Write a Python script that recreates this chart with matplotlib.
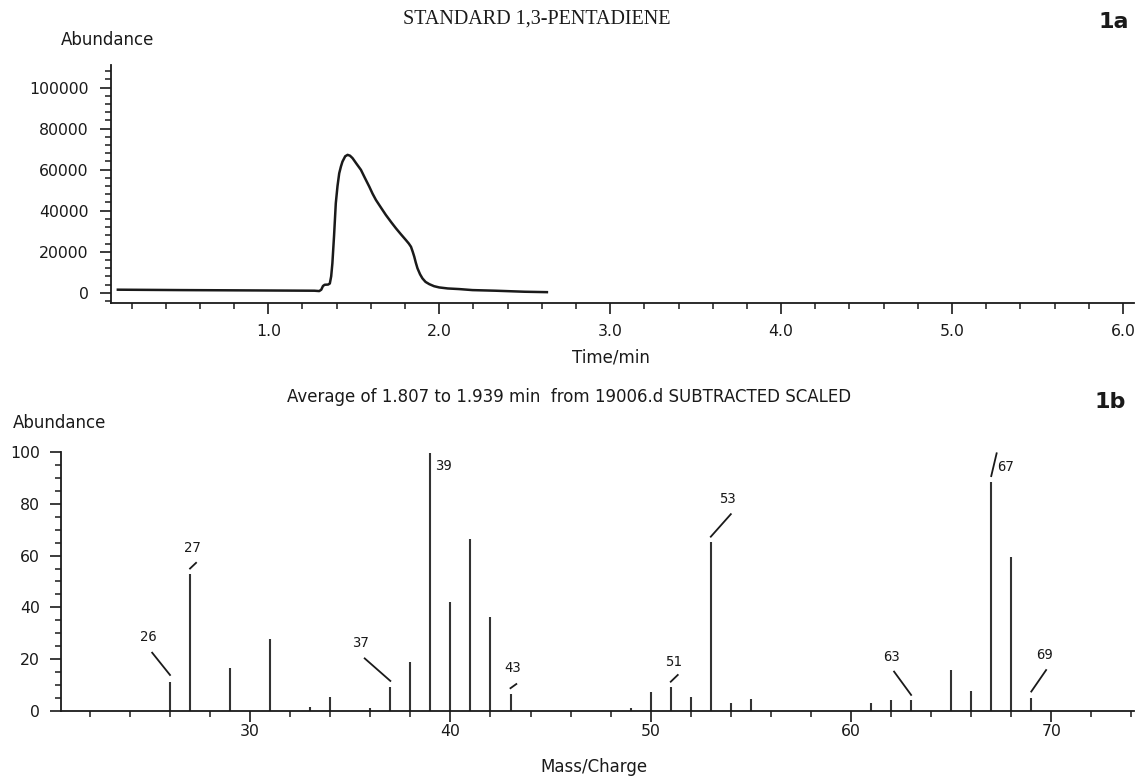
import numpy as np
import matplotlib
matplotlib.use('Agg')
import matplotlib.pyplot as plt
from matplotlib.ticker import MultipleLocator

# chromatogram (1a)
time_min = [0.12, 0.5, 0.9, 1.27, 1.298, 1.31, 1.32, 1.33, 1.35, 1.36, 1.368, 1.375, 1.385,
            1.395, 1.405, 1.415, 1.425, 1.434, 1.45, 1.464, 1.478, 1.493, 1.515, 1.542,
            1.565, 1.591, 1.610, 1.630, 1.66, 1.688, 1.72, 1.747, 1.775, 1.805, 1.822,
            1.835, 1.845, 1.854, 1.863, 1.873, 1.888, 1.902, 1.92, 1.942, 1.97, 2.0, 2.05,
            2.117, 2.195, 2.33, 2.5, 2.63]
abundance = [1500, 1300, 1150, 1000, 830, 1500, 3300, 3900, 4000, 4500, 8000, 14300, 28000,
             43600, 52000, 58200, 61500, 63900, 66500, 67200, 66800, 65600, 63000, 59900,
             56000, 51700, 48300, 45200, 41400, 37900, 34300, 31400, 28600, 25700, 24000,
             22400, 20000, 17600, 14700, 11900, 9000, 7000, 5300, 4200, 3200, 2600, 2100,
             1800, 1300, 1000, 500, 300]

# mass spectrum (1b)
mz = [26, 27, 29, 31, 33, 34, 36, 37, 38, 39, 40, 41, 42, 43,
      49, 50, 51, 52, 53, 54, 55, 61, 62, 63, 65, 66, 67, 68, 69]
rel_abund = [11.3, 52.9, 16.7, 27.9, 1.5, 5.5, 1.0, 9.1, 18.9, 99.5, 42.0, 66.3, 36.4, 6.6,
             1.0, 7.5, 9.4, 5.5, 65.4, 3.0, 4.5, 3.0, 4.2, 4.2, 15.8, 7.8, 88.5, 59.6, 5.1]
labelled_mz = [26, 27, 37, 39, 43, 51, 53, 63, 67, 69]

# label layout: (text dx, text y, leader x0, leader y0, leader x1, leader y1) relative to peak
label_layout = {
    26: (-1.08, 28.7, -0.89, 22.5, 0.0, 13.9),
    27: (0.14, 62.8, 0.0, 55.0, 0.3, 57.2),
    37: (-1.47, 26.4, -1.28, 20.3, 0.0, 11.6),
    39: (0.66, 94.6, None, None, None, None),
    43: (0.10, 16.5, 0.0, 8.8, 0.29, 10.4),
    51: (0.11, 19.0, 0.0, 11.3, 0.35, 13.9),
    53: (0.85, 81.7, 0.0, 67.3, 1.0, 76.0),
    63: (-0.98, 21.0, -0.85, 15.2, 0.0, 6.2),
    67: (0.70, 94.3, 0.0, 90.7, 0.27, 99.5),
    69: (0.64, 21.6, 0.0, 7.5, 0.74, 15.8),
}

plt.rcParams['font.family'] = ['DejaVu Sans']
ink = '#1a1a1a'

fig = plt.figure(figsize=(11.41, 7.80), dpi=100)

# ---- top panel ----
ax1 = fig.add_axes([0.0973, 0.6115, 0.8966, 0.3052])
ax1.plot(time_min, abundance, color=ink, lw=1.8)
ax1.set_xlim(0.08, 6.065)
ax1.set_ylim(-5000, 111000)
ax1.xaxis.set_minor_locator(MultipleLocator(0.2))
ax1.yaxis.set_minor_locator(MultipleLocator(4000))
ax1.set_xticks([1, 2, 3, 4, 5, 6])
ax1.set_xticklabels(['1.0', '2.0', '3.0', '4.0', '5.0', '6.0'])
ax1.set_yticks([0, 20000, 40000, 60000, 80000, 100000])
ax1.tick_params(axis='both', which='major', direction='out', length=8, width=1.2,
                labelsize=11.3, colors=ink)
ax1.tick_params(axis='both', which='minor', direction='out', length=4.5, width=1.1,
                colors=ink)
ax1.tick_params(axis='x', which='major', pad=7)
ax1.tick_params(axis='y', which='major', pad=8)
for side in ['right', 'top']:
    ax1.spines[side].set_visible(False)
for side in ['left', 'bottom']:
    ax1.spines[side].set_linewidth(1.3)
    ax1.spines[side].set_color(ink)

fig.text(537 / 1141, 1 - 19 / 780, 'STANDARD 1,3-PENTADIENE', family='Liberation Serif',
         fontsize=14.5, ha='center', va='center', color=ink)
fig.text(1114 / 1141, 1 - 22 / 780, '1a', fontsize=16, fontweight='bold',
         ha='center', va='center', color=ink)
fig.text(108 / 1141, 1 - 40 / 780, 'Abundance', fontsize=12, ha='center', va='center', color=ink)
fig.text(611 / 1141, 1 - 358 / 780, 'Time/min', fontsize=12, ha='center', va='center', color=ink)

# ---- bottom panel ----
ax2 = fig.add_axes([0.0535, 0.0885, 0.9404, 0.332])
ax2.vlines(mz, 0, rel_abund, color='#333333', lw=1.5)
ax2.set_xlim(20.56, 74.13)
ax2.set_ylim(0, 100)
ax2.xaxis.set_major_locator(MultipleLocator(10))
ax2.xaxis.set_minor_locator(MultipleLocator(2))
ax2.yaxis.set_major_locator(MultipleLocator(20))
ax2.yaxis.set_minor_locator(MultipleLocator(5))
ax2.tick_params(axis='both', which='major', direction='out', length=8, width=1.2,
                labelsize=11.3, colors=ink)
ax2.tick_params(axis='both', which='minor', direction='out', length=4.5, width=1.1,
                colors=ink)
ax2.tick_params(axis='x', which='major', pad=1.5)
ax2.tick_params(axis='y', which='major', pad=7)
for side in ['right', 'top']:
    ax2.spines[side].set_visible(False)
for side in ['left', 'bottom']:
    ax2.spines[side].set_linewidth(1.3)
    ax2.spines[side].set_color(ink)

for m in labelled_mz:
    tdx, ty, x0, y0, x1, y1 = label_layout[m]
    ax2.text(m + tdx, ty, str(m), fontsize=10, ha='center', va='center', color=ink,
             family='DejaVu Sans Mono')
    if x0 is not None:
        ax2.plot([m + x0, m + x1], [y0, y1], color=ink, lw=1.3)

fig.text(569 / 1141, 1 - 397 / 780,
         'Average of 1.807 to 1.939 min  from 19006.d SUBTRACTED SCALED',
         fontsize=12, ha='center', va='center', color=ink)
fig.text(1110 / 1141, 1 - 402 / 780, '1b', fontsize=16, fontweight='bold',
         ha='center', va='center', color=ink)
fig.text(60 / 1141, 1 - 423 / 780, 'Abundance', fontsize=12, ha='center', va='center', color=ink)
fig.text(594 / 1141, 1 - 767 / 780, 'Mass/Charge', fontsize=12, ha='center', va='center', color=ink)

fig.savefig('out.png', dpi=100)
